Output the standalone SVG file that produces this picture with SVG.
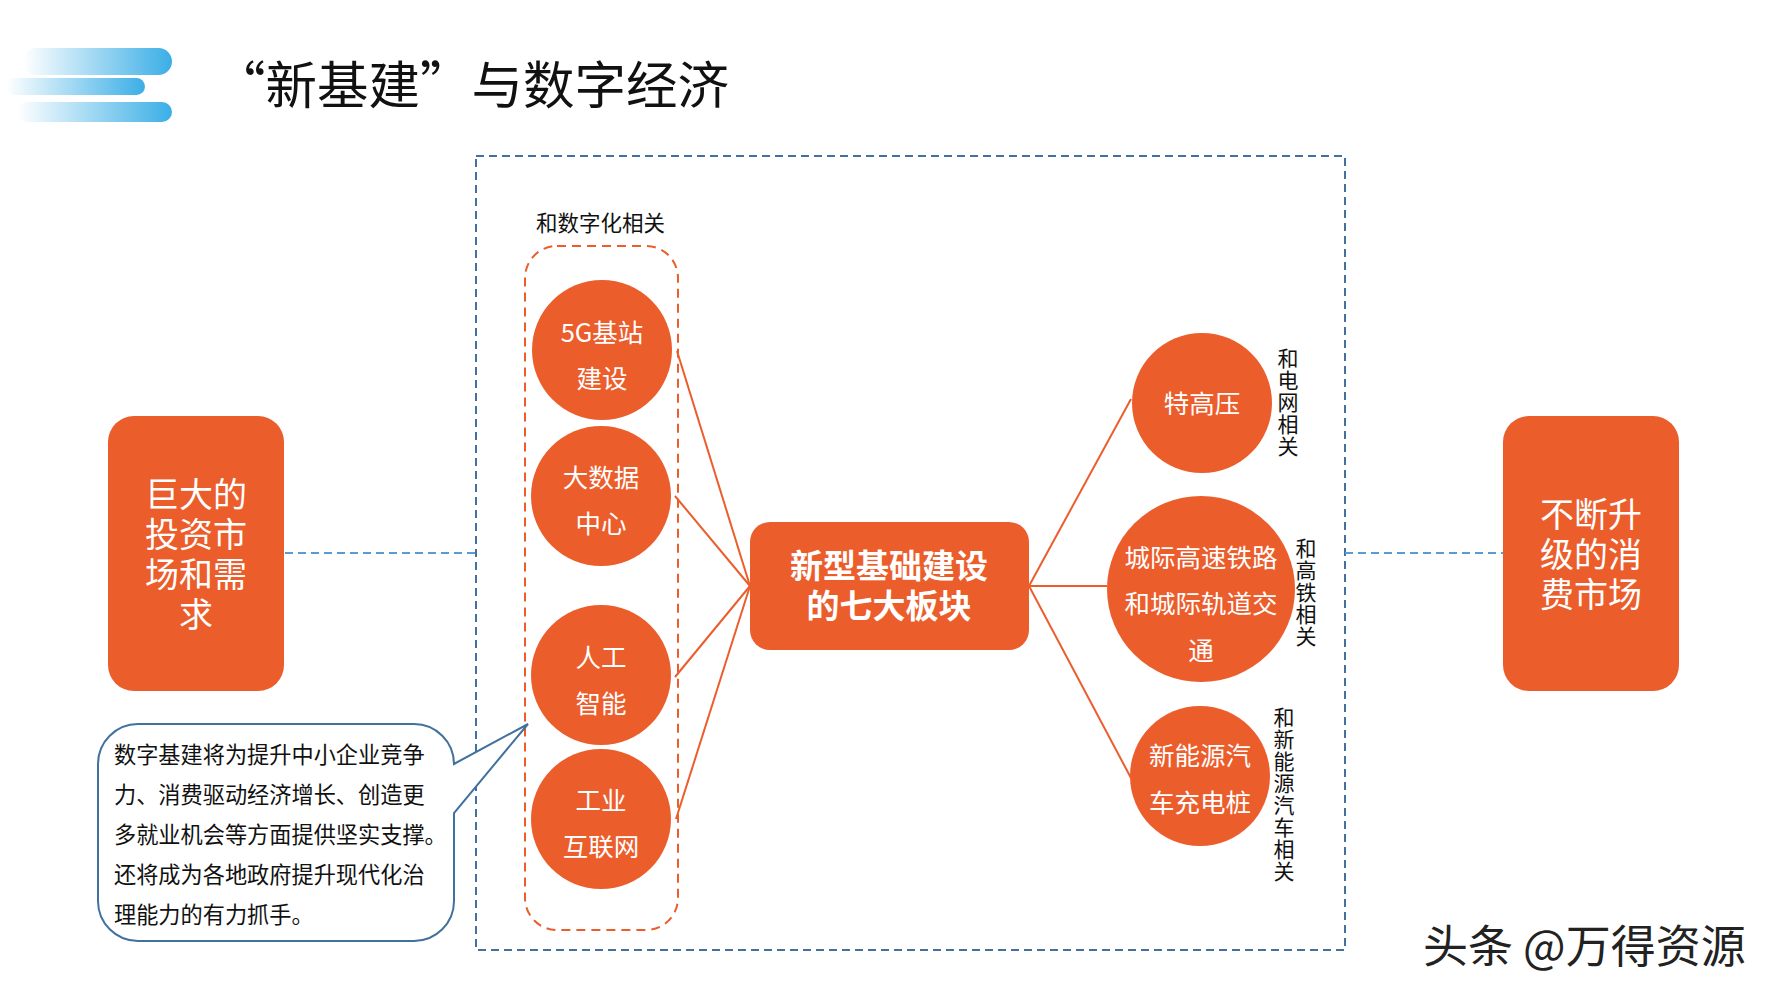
<svg xmlns="http://www.w3.org/2000/svg" width="1778" height="1000" viewBox="0 0 1778 1000">
<defs>
<linearGradient id="bar" x1="0" y1="0" x2="1" y2="0">
<stop offset="0" stop-color="#3BAEE6" stop-opacity="0"/>
<stop offset="1" stop-color="#3BAEE6"/>
</linearGradient>
<style>
text{font-family:"Noto Sans CJK SC","Microsoft YaHei",sans-serif}
.org{fill:#EC5D2C}
.wt{fill:#fff;font-size:25.5px;text-anchor:middle}
.big{fill:#fff;font-size:34px;text-anchor:middle}
.lbl{fill:#111;font-size:21.5px}
.vl{fill:#111;font-size:21px;text-anchor:middle}
.cl{fill:#111;font-size:22.2px}
.ol{stroke:#EC5D2C;stroke-width:2;fill:none}
.bd{stroke:#5B9BD5;stroke-width:2;stroke-dasharray:8 5;fill:none}
</style>
</defs>
<rect width="1778" height="1000" fill="#fff"/>
<g id="header">
<rect x="23" y="48" width="149" height="27" rx="13.5" fill="url(#bar)"/>
<rect x="6" y="78" width="139" height="17" rx="8.5" fill="url(#bar)"/>
<rect x="17" y="102" width="155" height="20" rx="10" fill="url(#bar)"/>
<text x="214" y="104" font-size="51.5" fill="#111">“新基建”与数字经济</text>
</g>
<g id="frames">
<rect x="476" y="156" width="869" height="794" fill="none" stroke="#41719C" stroke-width="2" stroke-dasharray="8 5"/>
<rect x="525" y="246" width="153" height="684" rx="32" fill="none" stroke="#EC5D2C" stroke-width="2" stroke-dasharray="9 6"/>
<text class="lbl" x="536" y="231">和数字化相关</text>
</g>
<g id="connectors">
<line class="bd" x1="285" y1="553" x2="476" y2="553"/>
<line class="bd" x1="1345" y1="553" x2="1503" y2="553"/>
<line class="ol" x1="677" y1="351" x2="750" y2="586"/>
<line class="ol" x1="675" y1="496" x2="750" y2="586"/>
<line class="ol" x1="675" y1="677" x2="750" y2="586"/>
<line class="ol" x1="676" y1="819" x2="750" y2="586"/>
<line class="ol" x1="1029" y1="586" x2="1131" y2="399"/>
<line class="ol" x1="1029" y1="586" x2="1107" y2="586"/>
<line class="ol" x1="1029" y1="586" x2="1131" y2="778"/>
</g>
<g id="node-left">
<rect class="org" x="108" y="416" width="176" height="275" rx="26"/>
<text class="big" x="196" y="507">巨大的</text>
<text class="big" x="196" y="547">投资市</text>
<text class="big" x="196" y="587">场和需</text>
<text class="big" x="196" y="627">求</text>
</g>
<g id="node-right">
<rect class="org" x="1503" y="416" width="176" height="275" rx="26"/>
<text class="big" x="1591" y="527">不断升</text>
<text class="big" x="1591" y="567">级的消</text>
<text class="big" x="1591" y="607">费市场</text>
</g>
<g id="node-5g">
<circle class="org" cx="602" cy="350" r="70"/>
<text class="wt" x="602" y="342">5G基站</text>
<text class="wt" x="602" y="388">建设</text>
</g>
<g id="node-bigdata">
<circle class="org" cx="601" cy="496" r="70"/>
<text class="wt" x="601" y="487">大数据</text>
<text class="wt" x="601" y="533">中心</text>
</g>
<g id="node-ai">
<circle class="org" cx="601" cy="675" r="70"/>
<text class="wt" x="601" y="667">人工</text>
<text class="wt" x="601" y="713">智能</text>
</g>
<g id="node-iiot">
<circle class="org" cx="601" cy="819" r="70"/>
<text class="wt" x="601" y="810">工业</text>
<text class="wt" x="601" y="856">互联网</text>
</g>
<g id="node-center">
<rect class="org" x="750" y="522" width="279" height="128" rx="20"/>
<text x="889" y="578" font-size="33" font-weight="bold" fill="#fff" text-anchor="middle">新型基础建设</text>
<text x="889" y="618" font-size="33" font-weight="bold" fill="#fff" text-anchor="middle">的七大板块</text>
</g>
<g id="node-uhv">
<circle class="org" cx="1202" cy="403" r="70"/>
<text class="wt" x="1202" y="413">特高压</text>
<text class="vl"><tspan x="1288" y="366">和</tspan><tspan x="1288" dy="22">电</tspan><tspan x="1288" dy="22">网</tspan><tspan x="1288" dy="22">相</tspan><tspan x="1288" dy="22">关</tspan></text>
</g>
<g id="node-rail">
<ellipse class="org" cx="1201" cy="589" rx="94" ry="93"/>
<text class="wt" x="1201" y="567">城际高速铁路</text>
<text class="wt" x="1201" y="613">和城际轨道交</text>
<text class="wt" x="1201" y="660">通</text>
<text class="vl"><tspan x="1306" y="556">和</tspan><tspan x="1306" dy="22">高</tspan><tspan x="1306" dy="22">铁</tspan><tspan x="1306" dy="22">相</tspan><tspan x="1306" dy="22">关</tspan></text>
</g>
<g id="node-ev">
<circle class="org" cx="1200" cy="776" r="70"/>
<text class="wt" x="1200" y="765">新能源汽</text>
<text class="wt" x="1200" y="812">车充电桩</text>
<text class="vl"><tspan x="1284" y="725">和</tspan><tspan x="1284" dy="22">新</tspan><tspan x="1284" dy="22">能</tspan><tspan x="1284" dy="22">源</tspan><tspan x="1284" dy="22">汽</tspan><tspan x="1284" dy="22">车</tspan><tspan x="1284" dy="22">相</tspan><tspan x="1284" dy="22">关</tspan></text>
</g>
<g id="callout">
<path d="M138,724 H414 A40,40 0 0 1 454,764 L528,724 L454,813 V901 A40,40 0 0 1 414,941 H138 A40,40 0 0 1 98,901 V764 A40,40 0 0 1 138,724 Z" fill="#fff" stroke="#41719C" stroke-width="2"/>
<text class="cl" x="114" y="763">数字基建将为提升中小企业竞争</text>
<text class="cl" x="114" y="803">力、消费驱动经济增长、创造更</text>
<text class="cl" x="114" y="843">多就业机会等方面提供坚实支撑。</text>
<text class="cl" x="114" y="883">还将成为各地政府提升现代化治</text>
<text class="cl" x="114" y="923">理能力的有力抓手。</text>
</g>
<text x="1423" y="963" font-size="45" fill="#222">头条 @万得资源</text>
</svg>
